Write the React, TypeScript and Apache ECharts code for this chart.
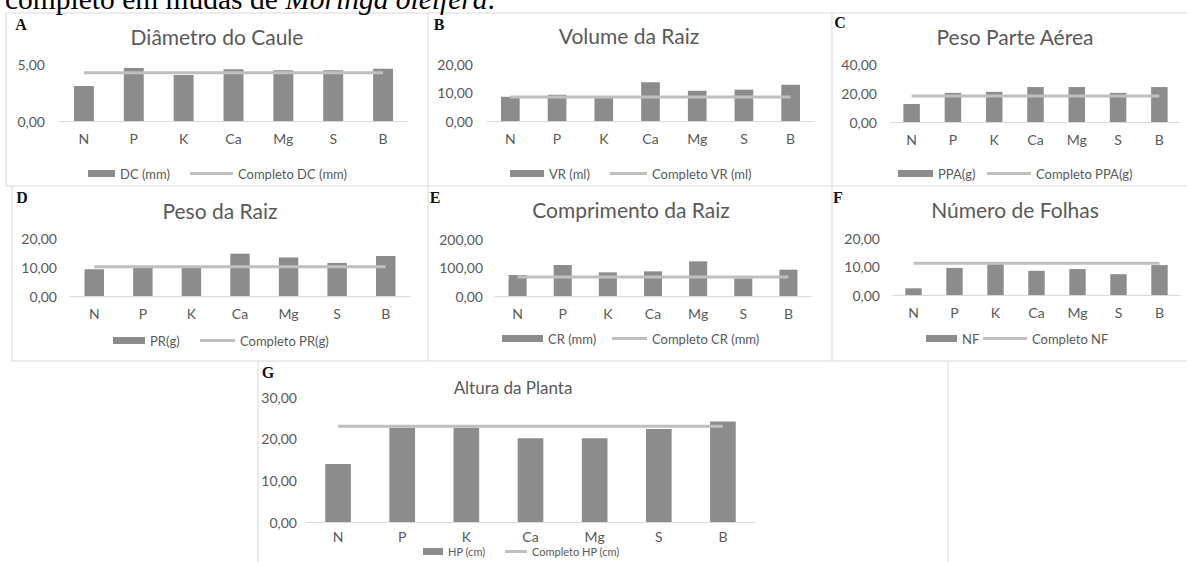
import React, { useEffect, useRef } from 'react';
import * as echarts from 'echarts';

const categories = ['N', 'P', 'K', 'Ca', 'Mg', 'S', 'B'];

const dcValues = [3.07, 4.65, 4.04, 4.53, 4.45, 4.45, 4.59];
const dcCompleto = [4.24, 4.24, 4.24, 4.24, 4.24, 4.24, 4.24];
const vrValues = [8.5, 9.2, 8.2, 13.6, 10.6, 11.0, 12.7];
const vrCompleto = [8.4, 8.4, 8.4, 8.4, 8.4, 8.4, 8.4];
const ppaValues = [12.4, 20.1, 20.8, 24.1, 24.1, 20.1, 24.1];
const ppaCompleto = [18.0, 18.0, 18.0, 18.0, 18.0, 18.0, 18.0];
const prValues = [9.2, 9.9, 9.8, 14.6, 13.3, 11.4, 13.8];
const prCompleto = [10.1, 10.1, 10.1, 10.1, 10.1, 10.1, 10.1];
const crValues = [73.7, 108.8, 83.0, 86.5, 121.6, 62.0, 92.4];
const crCompleto = [66.7, 66.7, 66.7, 66.7, 66.7, 66.7, 66.7];
const nfValues = [2.35, 9.5, 10.8, 8.5, 9.1, 7.3, 10.5];
const nfCompleto = [11.1, 11.1, 11.1, 11.1, 11.1, 11.1, 11.1];
const hpValues = [13.9, 22.6, 22.6, 20.1, 20.1, 22.3, 24.1];
const hpCompleto = [23.0, 23.0, 23.0, 23.0, 23.0, 23.0, 23.0];

const panelLetters = ['A', 'B', 'C', 'D', 'E', 'F', 'G'];
const panelTitles = [
  'Diâmetro do Caule',
  'Volume da Raiz',
  'Peso Parte Aérea',
  'Peso da Raiz',
  'Comprimento da Raiz',
  'Número de Folhas',
  'Altura da Planta',
];
const barNames = ['DC (mm)', 'VR (ml)', 'PPA(g)', 'PR(g)', 'CR (mm)', 'NF', 'HP (cm)'];
const lineNames = [
  'Completo DC (mm)',
  'Completo VR (ml)',
  'Completo PPA(g)',
  'Completo PR(g)',
  'Completo CR (mm)',
  'Completo NF',
  'Completo HP (cm)',
];
const barData = [dcValues, vrValues, ppaValues, prValues, crValues, nfValues, hpValues];
const lineData = [dcCompleto, vrCompleto, ppaCompleto, prCompleto, crCompleto, nfCompleto, hpCompleto];
const axisMax = [5, 20, 40, 20, 200, 20, 30];
const axisInterval = [5, 10, 20, 10, 100, 10, 10];

// layout (pixels)
const layouts = [
  { grid: [59, 64, 349, 57], yMargin: 14, xMargin: 10, letter: [21, 24], title: [217, 36], tSize: 21, legY: 175, bar: [88, 27], line: [190, 43], lSize: 13 },
  { grid: [487, 64, 327, 57], yMargin: 14, xMargin: 10, letter: [439, 24], title: [629, 35], tSize: 21, legY: 175, bar: [510, 34], line: [610, 37], lSize: 13 },
  { grid: [891, 64, 289, 58], yMargin: 14, xMargin: 10, letter: [840, 22], title: [1015, 36], tSize: 21, legY: 175, bar: [898, 35], line: [987, 44], lSize: 13 },
  { grid: [70, 238, 340, 58], yMargin: 13, xMargin: 10, letter: [22, 197], title: [220, 210], tSize: 21, legY: 342, bar: [113, 32], line: [200, 35], lSize: 13 },
  { grid: [495, 239, 316, 57], yMargin: 12, xMargin: 10, letter: [435, 197], title: [631, 209], tSize: 21, legY: 340, bar: [502, 41], line: [612, 35], lSize: 13 },
  { grid: [893, 238, 287, 57], yMargin: 13, xMargin: 10, letter: [838, 197], title: [1015, 209], tSize: 21, legY: 340, bar: [926, 31], line: [983, 44], lSize: 13 },
  { grid: [306, 397, 449, 125], yMargin: 9, xMargin: 7, letter: [268, 372], title: [513, 387], tSize: 17, legY: 553, bar: [423, 20], line: [505, 22], lSize: 11 },
];

const TEXT = '#595959';
const BAR = '#8c8c8c';
const LINE = '#bfbfbf';
const BORDER = '#d9d9d9';
const FONT = 'Lato, "Noto Sans", sans-serif';
const SERIF = '"Liberation Serif", "DejaVu Serif", serif';

function fmt(v: number) {
  return v.toFixed(2).replace('.', ',');
}

function buildOption() {
  const grid: any[] = [];
  const xAxis: any[] = [];
  const yAxis: any[] = [];
  const series: any[] = [];
  const legend: any[] = [];
  const graphic: any[] = [];

  layouts.forEach((L, i) => {
    grid.push({ left: L.grid[0], top: L.grid[1], width: L.grid[2], height: L.grid[3], containLabel: false });
    xAxis.push({
      type: 'category',
      gridIndex: i,
      data: categories,
      axisTick: { show: false },
      axisLine: { lineStyle: { color: BORDER, width: 1 } },
      axisLabel: { color: TEXT, fontSize: 14, fontFamily: FONT, margin: L.xMargin },
    });
    yAxis.push({
      type: 'value',
      gridIndex: i,
      min: 0,
      max: axisMax[i],
      interval: axisInterval[i],
      splitLine: { show: false },
      axisLine: { show: false },
      axisTick: { show: false },
      axisLabel: { color: TEXT, fontSize: 14, fontFamily: FONT, margin: L.yMargin, formatter: (v: number) => fmt(v) },
    });
    series.push({
      type: 'bar',
      name: barNames[i],
      xAxisIndex: i,
      yAxisIndex: i,
      data: barData[i],
      barWidth: '40%',
      itemStyle: { color: BAR },
      z: 2,
    });
    series.push({
      type: 'line',
      name: lineNames[i],
      xAxisIndex: i,
      yAxisIndex: i,
      data: lineData[i],
      symbol: 'none',
      lineStyle: { color: LINE, width: 3 },
      itemStyle: { color: LINE },
      z: 3,
    });
    const legH = L.lSize + 3;
    legend.push({
      data: [{ name: barNames[i], icon: 'rect' }],
      left: L.bar[0],
      top: L.legY - legH / 2,
      itemWidth: L.bar[1],
      itemHeight: 7,
      padding: 0,
      selectedMode: false,
      textStyle: { color: TEXT, fontSize: L.lSize, fontFamily: FONT },
    });
    legend.push({
      data: [{ name: lineNames[i], icon: 'rect' }],
      left: L.line[0],
      top: L.legY - legH / 2,
      itemWidth: L.line[1],
      itemHeight: 3,
      padding: 0,
      selectedMode: false,
      textStyle: { color: TEXT, fontSize: L.lSize, fontFamily: FONT },
    });
    graphic.push({
      type: 'text',
      x: L.title[0],
      y: L.title[1],
      style: {
        text: panelTitles[i],
        fill: TEXT,
        font: `${L.tSize}px ${FONT}`,
        align: 'center',
        verticalAlign: 'middle',
      },
    });
    graphic.push({
      type: 'text',
      x: L.letter[0],
      y: L.letter[1],
      style: {
        text: panelLetters[i],
        fill: '#111',
        font: `bold 16px ${SERIF}`,
        align: 'center',
        verticalAlign: 'middle',
      },
    });
  });

  const borders = [
    [6, 13, 1187, 13],
    [6, 13, 6, 186],
    [428, 13, 428, 361],
    [832, 13, 832, 361],
    [6, 186, 1187, 186],
    [12, 186, 12, 361],
    [12, 361, 1187, 361],
    [258, 361, 258, 562],
    [948, 361, 948, 562],
  ];
  borders.forEach((b) => {
    graphic.push({
      type: 'line',
      shape: { x1: b[0], y1: b[1], x2: b[2], y2: b[3] },
      style: { stroke: BORDER, lineWidth: 1 },
      silent: true,
    });
  });

  graphic.push({
    type: 'text',
    x: 5,
    y: -1,
    style: {
      text: '{n|completo em mudas de }{i|Moringa oleifera}{n|.}',
      verticalAlign: 'middle',
      align: 'left',
      rich: {
        n: { fontFamily: SERIF, fontSize: 29.5, lineHeight: 18, fill: '#000', color: '#000' },
        i: { fontFamily: SERIF, fontSize: 29.5, lineHeight: 18, fontStyle: 'italic', fill: '#000', color: '#000' },
      },
    },
  });

  return {
    animation: false,
    backgroundColor: '#ffffff',
    grid,
    xAxis,
    yAxis,
    series,
    legend,
    graphic,
  };
}

export default function App() {
  const ref = useRef<HTMLDivElement>(null);
  useEffect(() => {
    if (!ref.current) return;
    const chart = echarts.init(ref.current, undefined, { renderer: 'svg' });
    chart.setOption(buildOption() as any);
    return () => chart.dispose();
  }, []);
  return (
    <div
      ref={ref}
      style={{ position: 'fixed', left: 0, top: 0, width: 1187, height: 562, background: '#fff' }}
    />
  );
}
